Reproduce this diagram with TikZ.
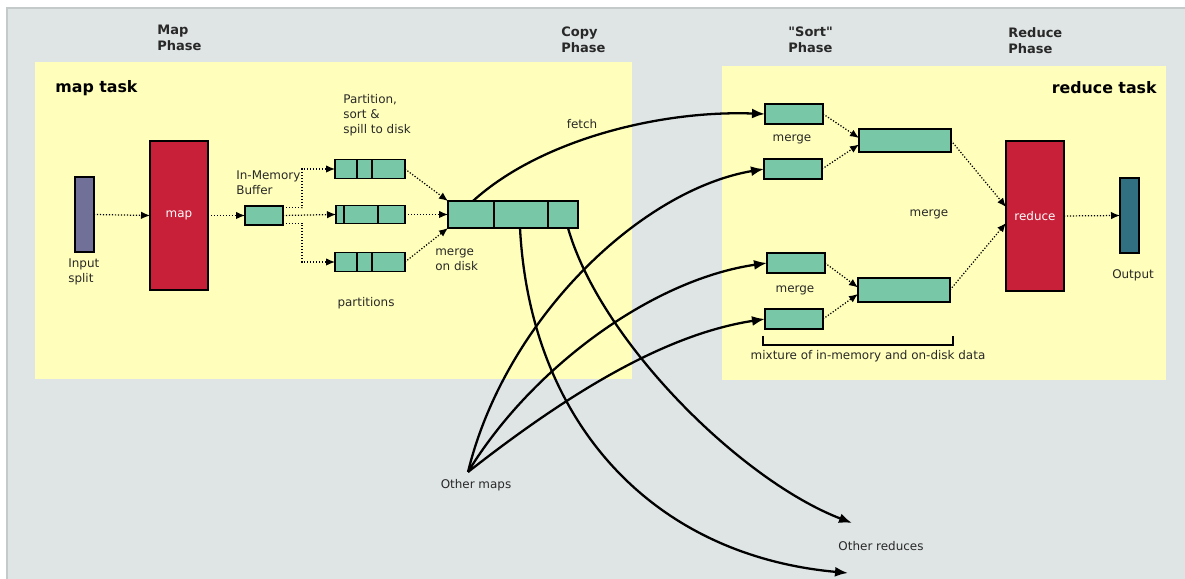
\documentclass[tikz,border=0pt]{standalone}
\usepackage{fontspec}
\setmainfont{DejaVu Sans}[Ligatures=TeXOff]
\usetikzlibrary{arrows.meta}

\definecolor{panelgrey}{RGB}{223,228,228}
\definecolor{panelline}{RGB}{196,201,201}
\definecolor{taskyellow}{RGB}{255,255,187}
\definecolor{bufgreen}{RGB}{120,200,168}
\definecolor{mapred}{RGB}{200,32,56}
\definecolor{splitblue}{RGB}{112,112,152}
\definecolor{outblue}{RGB}{48,112,128}
\definecolor{txt}{RGB}{40,40,40}

\tikzset{
    lbl/.style={text=txt, font=\fontsize{6.8}{8.5}\selectfont, align=left, inner sep=0pt},
    phase/.style={text=txt, font=\bfseries\fontsize{7.4}{9}\selectfont, align=left, inner sep=0pt, anchor=west},
    task/.style={text=black, font=\bfseries\fontsize{9}{11}\selectfont, inner sep=0pt},
    block/.style={draw, line width=0.8pt, fill=#1, inner sep=0pt, outer sep=0pt,
        text=white, font=\fontsize{6.8}{8.5}\selectfont},
    seg/.style 2 args={draw, line width=0.8pt, fill=bufgreen, inner sep=0pt, outer sep=0pt,
        minimum width=#1, minimum height=#2},
    dotarrow/.style={densely dotted, line width=0.7pt, -{Latex[length=0.18cm,width=0.15cm]}},
    flow/.style={line width=1.3pt, -{Latex[length=0.26cm,width=0.2cm]}}
}

\begin{document}
\begin{tikzpicture}
    \useasboundingbox (0,0) rectangle (23.7,11.58);

    % background and task areas
    \fill[panelgrey] (0.14,-0.1) rectangle (23.8,11.42);
    \draw[panelline, line width=1pt] (0.14,-0.1) -- (0.14,11.42) -- (23.8,11.42);
    \fill[taskyellow] (0.70,4.00) rectangle (12.64,10.34);
    \fill[taskyellow] (14.44,3.98) rectangle (23.32,10.26);

    \node[phase] (ph1) at (3.14,10.82) {Map\\Phase};
    \node[phase] (ph2) at (11.22,10.78) {Copy\\Phase};
    \node[phase] (ph3) at (15.76,10.78) {"Sort"\\Phase};
    \node[phase] (ph4) at (20.16,10.76) {Reduce\\Phase};
    \node[task, anchor=west] (mt) at (1.10,9.82) {map task};
    \node[task, anchor=east] (rt) at (23.14,9.82) {reduce task};

    % map side
    \node[block=splitblue, minimum width=0.38cm, minimum height=1.5cm] (inp) at (1.69,7.29) {};
    \node[lbl, anchor=west] (inplbl) at (1.36,6.14) {Input\\split};
    \node[block=mapred, minimum width=1.16cm, minimum height=2.98cm] (map) at (3.58,7.27) {map};
    \node[seg={0.76cm}{0.38cm}] (buf) at (5.28,7.27) {};
    \node[lbl, anchor=west] (buflbl) at (4.72,7.93) {In-Memory\\Buffer};

    \node[seg={1.40cm}{0.38cm}] (p1) at (7.40,8.20) {};
    \node[seg={1.38cm}{0.36cm}] (p2) at (7.41,7.29) {};
    \node[seg={1.40cm}{0.38cm}] (p3) at (7.40,6.34) {};
    \node[lbl, anchor=west] (spill) at (6.86,9.27) {Partition,\\sort \&\\spill to disk};
    \node[lbl] (parts) at (7.32,5.52) {partitions};

    \node[seg={2.60cm}{0.54cm}] (md) at (10.26,7.29) {};
    \node[lbl, anchor=west] (mdlbl) at (8.70,6.39) {merge\\on disk};
    \node[lbl] (fetch) at (11.64,9.10) {fetch};

    \foreach \n/\d in {p1/0.44, p1/0.74, p2/0.16, p2/0.84, p3/0.44, p3/0.74, md/0.92, md/2.00}
        \draw[line width=0.8pt] ([xshift=\d cm]\n.north west) -- ([xshift=\d cm]\n.south west);

    % reduce side
    \node[seg={1.16cm}{0.40cm}] (r1) at (15.88,9.30) {};
    \node[seg={1.16cm}{0.40cm}] (r2) at (15.86,8.20) {};
    \node[seg={1.16cm}{0.40cm}] (r3) at (15.92,6.32) {};
    \node[seg={1.16cm}{0.40cm}] (r4) at (15.88,5.20) {};
    \node[seg={1.84cm}{0.46cm}] (m1) at (18.10,8.77) {};
    \node[seg={1.84cm}{0.48cm}] (m2) at (18.08,5.78) {};
    \node[block=mapred, minimum width=1.16cm, minimum height=3.0cm] (red) at (20.70,7.26) {reduce};
    \node[block=outblue, minimum width=0.38cm, minimum height=1.5cm] (out) at (22.59,7.27) {};
    \node[lbl] (outlbl) at (22.66,6.08) {Output};

    \node[lbl] (mg1) at (15.84,8.80) {merge};
    \node[lbl] (mg2) at (18.58,7.30) {merge};
    \node[lbl] (mg3) at (15.90,5.78) {merge};
    \draw[line width=0.6pt] (15.26,4.86) -- (15.26,4.68) -- (19.06,4.68) -- (19.06,4.86);
    \node[lbl] (mix) at (17.36,4.46) {mixture of in-memory and on-disk data};

    \node[lbl] (om) at (9.52,1.88) {Other maps};
    \coordinate (omp) at (9.36,2.14);
    \node[lbl] (ored) at (17.62,0.66) {Other reduces};
    \coordinate (or1) at (17.04,1.12);
    \coordinate (or2) at (16.96,0.12);

    % dotted flow inside the tasks
    \draw[dotarrow] (inp.east) -- (map.west);
    \draw[dotarrow] (map.east) -- (buf.west);
    \draw[dotarrow] ([yshift=-1pt]buf.north east) -- ++(0.38,0) |- (p1.west);
    \draw[dotarrow] (buf.east) -- (p2.west);
    \draw[dotarrow] ([yshift=1pt]buf.south east) -- ++(0.38,0) |- (p3.west);
    \draw[dotarrow] (p1.east) -- (md.north west);
    \draw[dotarrow] (p2.east) -- (md.west);
    \draw[dotarrow] (p3.east) -- (md.south west);

    \draw[dotarrow] (r1.east) -- ([yshift=0.05cm]m1.west);
    \draw[dotarrow] (r2.east) -- ([yshift=-0.08cm]m1.west);
    \draw[dotarrow] (r3.east) -- ([yshift=0.05cm]m2.west);
    \draw[dotarrow] (r4.east) -- ([yshift=-0.08cm]m2.west);
    \draw[dotarrow] (m1.east) -- ([yshift=0.18cm]red.west);
    \draw[dotarrow] (m2.east) -- ([yshift=-0.14cm]red.west);
    \draw[dotarrow] (red.east) -- (out.west);

    % copy phase
    \draw[flow] ([xshift=0.5cm]md.north west) .. controls (10.8,8.78) and (13.2,9.38) .. (r1.west);
    \draw[flow] (omp) .. controls (10.1,5.18) and (12.8,7.78) .. (r2.west);
    \draw[flow] (omp) .. controls (10.6,4.18) and (13.0,5.98) .. (r3.west);
    \draw[flow] (omp) .. controls (11.2,3.58) and (13.2,4.88) .. (r4.west);
    \draw[flow] ([xshift=2.4cm]md.south west) .. controls (12.0,4.78) and (14.8,1.98) .. (or1);
    \draw[flow] ([xshift=1.44cm]md.south west) .. controls (10.6,3.18) and (13.0,0.48) .. (or2);
\end{tikzpicture}
\end{document}
